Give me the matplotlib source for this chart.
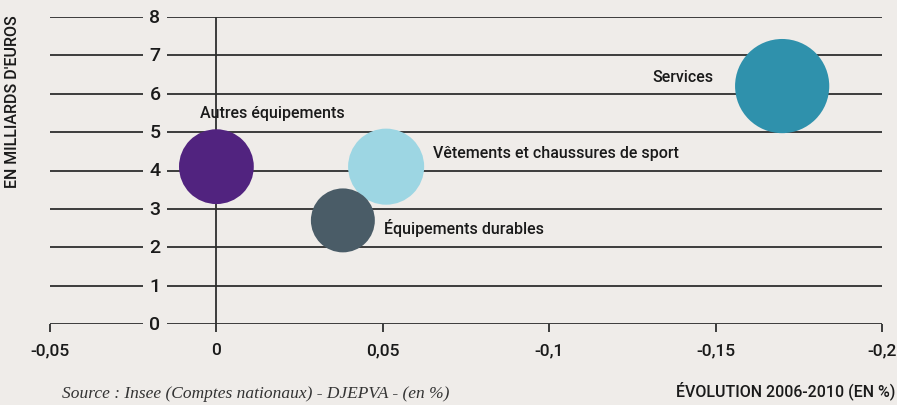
import matplotlib.pyplot as plt

# Data
categories = ['Autres équipements', 'Vêtements et chaussures de sport',
              'Équipements durables', 'Services']
evolution = [0.0, 0.051, 0.038, 0.17]        # x : évolution 2006-2010
montant = [4.1, 4.1, 2.7, 6.2]               # y : en milliards d'euros
poids = [2900, 3000, 2120, 4600]             # bubble sizes (pt^2)
colors = ['#51237f', '#9dd6e3', '#4a5c67', '#2f91ac']

x_ticks = [-0.05, 0, 0.05, 0.1, 0.15, 0.2]
x_tick_labels = ['-0,05', '0', '0,05', '-0,1', '-0,15', '-0,2']
y_ticks = [0, 1, 2, 3, 4, 5, 6, 7, 8]

# label placement (data coords, horizontal alignment)
label_pos = [(-0.005, 5.52, 'left'), (0.065, 4.48, 'left'),
             (0.0505, 2.53, 'left'), (0.1493, 6.46, 'right')]

bg = '#efece9'
ink = '#1a1a1a'
font = ['Roboto', 'DejaVu Sans']

fig = plt.figure(figsize=(8.97, 4.06), dpi=100, facecolor=bg)
ax = fig.add_axes([50 / 897, 1 - 325 / 406, 832 / 897, 307 / 406])
ax.set_facecolor(bg)
ax.set_xlim(-0.05, 0.2)
ax.set_ylim(0, 8)
for s in ax.spines.values():
    s.set_visible(False)

# grid lines and axes
for y in y_ticks:
    ax.axhline(y, color='#2e2e2e', lw=1.3, zorder=1)
ax.plot([0, 0], [0, 8], color='#2e2e2e', lw=1.3, zorder=1)

# y tick labels sitting on the grid lines
y_lab_x = -0.05 + 105 / 3328
for y in y_ticks:
    ax.text(y_lab_x, y, str(y), ha='center', va='center', fontsize=14,
            family=font, weight='medium', color=ink, zorder=2,
            bbox=dict(facecolor=bg, edgecolor='none', pad=4.5))

# x ticks
ax.set_xticks(x_ticks)
ax.set_xticklabels(x_tick_labels, family=font, fontsize=12.5,
                   weight='medium', color=ink)
ax.set_yticks([])
ax.tick_params(axis='x', length=6, width=1.3, color='#2e2e2e', pad=7)

# bubbles
ax.scatter(evolution, montant, s=poids, c=colors, zorder=3,
           edgecolors='none', clip_on=False)

for name, (tx, ty, ha) in zip(categories, label_pos):
    ax.text(tx, ty, name, ha=ha, va='center', fontsize=11.5, family=font,
            weight='medium', color=ink, zorder=4)

fig.text(13 / 897, 1 - 102 / 406, "EN MILLIARDS D'EUROS", rotation=90,
         ha='center', va='center', fontsize=11.5, family=font,
         weight='medium', color=ink)
fig.text(895 / 897, 1 - 391 / 406, 'ÉVOLUTION 2006-2010 (EN %)',
         ha='right', va='center', fontsize=11.5, family=font,
         weight='medium', color=ink)
fig.text(62 / 897, 1 - 394 / 406,
         'Source : Insee (Comptes nationaux) - DJEPVA - (en %)',
         ha='left', va='center', fontsize=12.5, style='italic',
         family=['Liberation Serif', 'DejaVu Serif'], color='#333333')

fig.savefig('out.png', dpi=100, facecolor=bg)
